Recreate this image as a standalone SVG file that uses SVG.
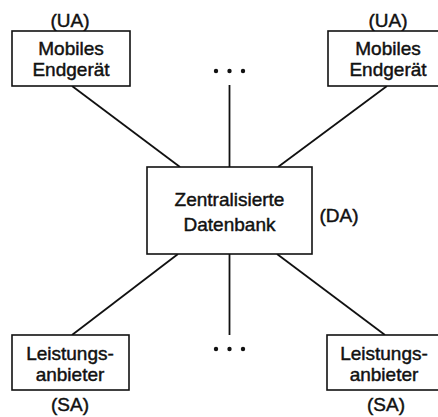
<svg xmlns="http://www.w3.org/2000/svg" width="438" height="417" viewBox="0 0 438 417">
<style>
.box{fill:#fff;stroke:#111;stroke-width:1.6}
.ln{stroke:#111;stroke-width:1.8;fill:none}
text{font-family:"Liberation Sans",Arial,sans-serif;font-size:19px;fill:#111;stroke:#111;stroke-width:0.45;text-anchor:middle}
.dot{fill:#111}
</style>
<g id="connectors">
<line class="ln" x1="72" y1="86" x2="180" y2="167"/>
<line class="ln" x1="387" y1="86" x2="278" y2="167"/>
<line class="ln" x1="229.5" y1="85" x2="229.5" y2="167"/>
<line class="ln" x1="72" y1="335" x2="178" y2="254"/>
<line class="ln" x1="385" y1="335" x2="277" y2="254"/>
<line class="ln" x1="229.5" y1="254" x2="229.5" y2="335"/>
</g>
<g id="dots-top">
<circle class="dot" cx="216" cy="71" r="2.2"/>
<circle class="dot" cx="229.5" cy="71" r="2.2"/>
<circle class="dot" cx="243" cy="71" r="2.2"/>
</g>
<g id="dots-bottom">
<circle class="dot" cx="216" cy="349" r="2.2"/>
<circle class="dot" cx="229.5" cy="349" r="2.2"/>
<circle class="dot" cx="243" cy="349" r="2.2"/>
</g>
<g id="ua-left">
<text x="70" y="27">(UA)</text>
<rect class="box" x="12" y="31" width="118" height="55"/>
<text x="71" y="55">Mobiles</text>
<text x="71" y="76">Endgerät</text>
</g>
<g id="ua-right">
<text x="388" y="27">(UA)</text>
<rect class="box" x="328" y="31" width="122" height="55"/>
<text x="388" y="55">Mobiles</text>
<text x="388" y="76">Endgerät</text>
</g>
<g id="db">
<rect class="box" x="147" y="167" width="165" height="87"/>
<text x="229.5" y="206">Zentralisierte</text>
<text x="229.5" y="231">Datenbank</text>
<text x="339" y="222">(DA)</text>
</g>
<g id="sa-left">
<rect class="box" x="12" y="335" width="117" height="55"/>
<text x="70" y="360">Leistungs-</text>
<text x="70" y="381">anbieter</text>
<text x="70" y="411">(SA)</text>
</g>
<g id="sa-right">
<rect class="box" x="327" y="335" width="122" height="55"/>
<text x="384" y="360">Leistungs-</text>
<text x="384" y="381">anbieter</text>
<text x="386" y="411">(SA)</text>
</g>
</svg>
